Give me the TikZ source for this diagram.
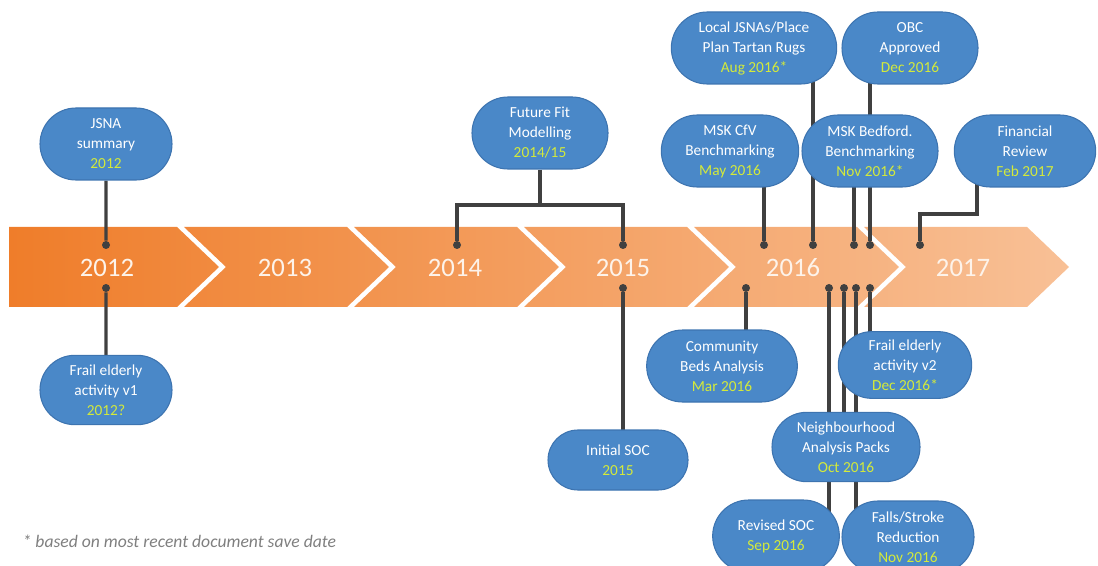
\documentclass[tikz,border=0pt]{standalone}
\usepackage{fontspec}
\setmainfont{Carlito}
\usetikzlibrary{shapes.misc}
\pgfdeclarelayer{band}
\pgfdeclarelayer{bg}
\pgfsetlayers{band,bg,main}
\definecolor{bfill}{HTML}{4A88C8}
\definecolor{bline}{HTML}{3D74B0}
\definecolor{dtc}{HTML}{D4EA3A}
\definecolor{cn}{HTML}{404040}
\definecolor{orA}{HTML}{EF7D2A}
\definecolor{orB}{HTML}{F8C096}
\definecolor{yrc}{HTML}{FDF3EA}
\definecolor{fnc}{HTML}{7F7F7F}
\newcommand{\dt}[1]{\textcolor{dtc}{#1}}
\begin{document}
\begin{tikzpicture}[x=0.75pt,y=-0.75pt]
    \tikzstyle{bb} = [rounded rectangle,draw=bline,line width=0.8pt,fill=bfill,text=white,align=center,font=\fontsize{11.5}{15}\selectfont,inner sep=0pt,minimum height=54pt] %bubble
    \tikzstyle{jd} = [circle,fill=cn,inner sep=0pt,minimum size=6pt] %junction dot
    \tikzstyle{cl} = [draw=cn,line width=2.3pt] %connector
    \tikzstyle{yr} = [text=yrc,font=\fontsize{20}{24}\selectfont] %year
    \useasboundingbox (0,0) rectangle (1098,566);
    \clip (0,0) rectangle (1098,566);
    % timeline band
    \begin{pgfonlayer}{band}
    \shade[left color=orA,right color=orB] (9,227) -- (177,227) -- (219,267) -- (177,307) -- (9,307) -- cycle
      foreach \i in {1,...,5} {({184+170*(\i-1)},227) -- ({177+170*\i},227) -- ({219+170*\i},267) -- ({177+170*\i},307) -- ({184+170*(\i-1)},307) -- ({226+170*(\i-1)},267) -- cycle};
    \end{pgfonlayer}
    \node[yr](y12)at(107,268){2012};
    \node[yr](y13)at(285,268){2013};
    \node[yr](y14)at(455,268){2014};
    \node[yr](y15)at(623,268){2015};
    \node[yr](y16)at(793,268){2016};
    \node[yr](y17)at(963,268){2017};
    % dots on the band
    \node[jd](d12a)at(106,245){};
    \node[jd](d12b)at(106,288){};
    \node[jd](d14a)at(457,245){};
    \node[jd](d15a)at(623,245){};
    \node[jd](d15b)at(623,288){};
    \node[jd](d16a)at(764,245){};
    \node[jd](d16b)at(813,245){};
    \node[jd](d16c)at(854,245){};
    \node[jd](d16d)at(870,245){};
    \node[jd](d17a)at(920,245){};
    \node[jd](d16e)at(746,288){};
    \node[jd](d16f)at(829,288){};
    \node[jd](d16g)at(844,288){};
    \node[jd](d16h)at(856,288){};
    \node[jd](d16i)at(870,288){};
    % bubbles
    \node[bb,minimum width=99pt](jsna)at(106,144){JSNA\\summary\\\dt{2012}};
    \node[bb,minimum width=99pt,minimum height=52pt](fev1)at(106,390){Frail elderly\\activity v1\\\dt{2012?}};
    \node[bb,minimum width=102pt](ffm)at(540,133){Future Fit\\Modelling\\\dt{2014/15}};
    \node[bb,minimum width=105pt,minimum height=45pt](isoc)at(618,460){Initial SOC\\\dt{2015}};
    \node[bb,minimum width=124pt](ljsna)at(754,48){Local JSNAs/Place\\Plan Tartan Rugs\\\dt{Aug 2016*}};
    \node[bb,minimum width=102pt](obc)at(910,48){OBC\\Approved\\\dt{Dec 2016}};
    \node[bb,minimum width=103pt](cfv)at(730,151){MSK CfV\\Benchmarking\\\dt{May 2016}};
    \node[bb,minimum width=102pt](bed)at(870,151){MSK Bedford.\\Benchmarking\\\dt{Nov 2016*}};
    \node[bb,minimum width=106pt](fin)at(1025,151){Financial\\Review\\\dt{Feb 2017}};
    \node[bb,minimum width=113pt](cba)at(722,366){Community\\Beds Analysis\\\dt{Mar 2016}};
    \node[bb,minimum width=100pt,minimum height=50pt](fev2)at(905,365){Frail elderly\\activity v2\\\dt{Dec 2016*}};
    \node[bb,minimum width=111pt,minimum height=52pt](nap)at(846,447){Neighbourhood\\Analysis Packs\\\dt{Oct 2016}};
    \node[bb,minimum width=95pt](rsoc)at(776,536){Revised SOC\\\dt{Sep 2016}};
    \node[bb,minimum width=99pt](fsr)at(908,537){Falls/Stroke\\Reduction\\\dt{Nov 2016}};
    \node[anchor=west,text=fnc,font=\itshape\fontsize{13.2}{15}\selectfont](fn)at(18,541){* based on most recent document save date};
    % connectors
    \begin{pgfonlayer}{bg}
    \coordinate(ffj)at(540,205);
    \coordinate(finj)at(977,214);
    \draw[cl](d12a)--(jsna);
    \draw[cl](d12b)--(fev1);
    \draw[cl](ffm)--(ffj);
    \draw[cl](d14a)|-(ffj)-|(d15a);
    \draw[cl](d15b)--(d15b|-isoc);
    \draw[cl](d16a)--(d16a|-cfv);
    \draw[cl](d16b)--(d16b|-ljsna);
    \draw[cl](d16c)--(d16c|-bed);
    \draw[cl](d16d)--(d16d|-obc);
    \draw[cl](finj|-fin)--(finj)-|(d17a);
    \draw[cl](d16e)--(d16e|-cba);
    \draw[cl](d16f)--(d16f|-rsoc);
    \draw[cl](d16g)--(d16g|-nap);
    \draw[cl](d16h)--(d16h|-fsr);
    \draw[cl](d16i)--(d16i|-fev2);
    \end{pgfonlayer}
\end{tikzpicture}
\end{document}
